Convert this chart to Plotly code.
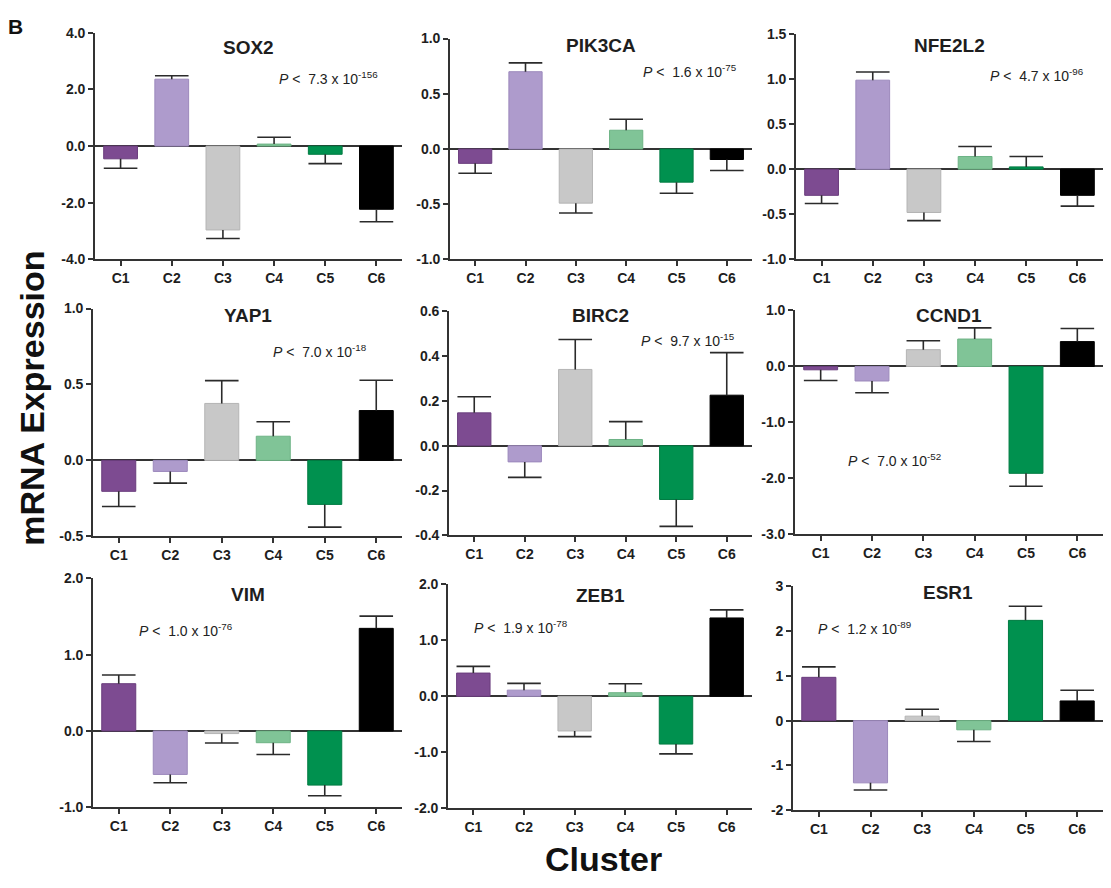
import plotly.graph_objects as go

# ---------------- data ----------------
clusters = ["C1", "C2", "C3", "C4", "C5", "C6"]
genes = ["SOX2", "PIK3CA", "NFE2L2", "YAP1", "BIRC2", "CCND1", "VIM", "ZEB1", "ESR1"]

sox2_mean = [-0.45, 2.36, -2.96, 0.07, -0.29, -2.23]
sox2_err = [0.33, 0.12, 0.30, 0.24, 0.33, 0.44]
pik3ca_mean = [-0.13, 0.70, -0.49, 0.17, -0.30, -0.095]
pik3ca_err = [0.09, 0.08, 0.09, 0.10, 0.10, 0.10]
nfe2l2_mean = [-0.29, 0.985, -0.48, 0.14, 0.025, -0.29]
nfe2l2_err = [0.09, 0.09, 0.09, 0.11, 0.115, 0.12]
yap1_mean = [-0.204, -0.073, 0.375, 0.159, -0.29, 0.328]
yap1_err = [0.10, 0.077, 0.15, 0.095, 0.15, 0.20]
birc2_mean = [0.147, -0.072, 0.341, 0.028, -0.24, 0.226]
birc2_err = [0.072, 0.069, 0.134, 0.08, 0.12, 0.19]
ccnd1_mean = [-0.06, -0.26, 0.30, 0.49, -1.91, 0.444]
ccnd1_err = [0.19, 0.21, 0.16, 0.20, 0.23, 0.235]
vim_mean = [0.62, -0.57, -0.034, -0.154, -0.71, 1.346]
vim_err = [0.115, 0.11, 0.124, 0.154, 0.14, 0.16]
zeb1_mean = [0.415, 0.11, -0.62, 0.064, -0.854, 1.40]
zeb1_err = [0.12, 0.12, 0.10, 0.16, 0.175, 0.145]
esr1_mean = [0.967, -1.39, 0.10, -0.205, 2.24, 0.44]
esr1_err = [0.234, 0.16, 0.155, 0.26, 0.315, 0.24]

means = [sox2_mean, pik3ca_mean, nfe2l2_mean, yap1_mean, birc2_mean,
         ccnd1_mean, vim_mean, zeb1_mean, esr1_mean]
errs = [sox2_err, pik3ca_err, nfe2l2_err, yap1_err, birc2_err,
        ccnd1_err, vim_err, zeb1_err, esr1_err]

y_tickvals = [
    [-4, -2, 0, 2, 4],
    [-1, -0.5, 0, 0.5, 1],
    [-1, -0.5, 0, 0.5, 1, 1.5],
    [-0.5, 0, 0.5, 1],
    [-0.4, -0.2, 0, 0.2, 0.4, 0.6],
    [-3, -2, -1, 0, 1],
    [-1, 0, 1, 2],
    [-2, -1, 0, 1, 2],
    [-2, -1, 0, 1, 2, 3],
]
y_ticktext = [
    ["-4.0", "-2.0", "0.0", "2.0", "4.0"],
    ["-1.0", "-0.5", "0.0", "0.5", "1.0"],
    ["-1.0", "-0.5", "0.0", "0.5", "1.0", "1.5"],
    ["-0.5", "0.0", "0.5", "1.0"],
    ["-0.4", "-0.2", "0.0", "0.2", "0.4", "0.6"],
    ["-3.0", "-2.0", "-1.0", "0.0", "1.0"],
    ["-1.0", "0.0", "1.0", "2.0"],
    ["-2.0", "-1.0", "0.0", "1.0", "2.0"],
    ["-2", "-1", "0", "1", "2", "3"],
]
p_mantissa = ["7.3", "1.6", "4.7", "7.0", "9.7", "7.0", "1.0", "1.9", "1.2"]
p_exponent = ["-156", "-75", "-96", "-18", "-15", "-52", "-76", "-78", "-89"]

# ---------------- style / layout ----------------
OFF = 8                      # page body margin
W, H = 1111 - 2 * OFF, 888 - 2 * OFF
bar_colors = ["#7D4B91", "#AE9BCC", "#C8C8C8", "#80C497", "#00914F", "#000000"]
edge_colors = ["#6A3D7D", "#9C89BC", "#B4B4B4", "#6DB385", "#007B42", "#000000"]
err_color = "#2b2b2b"
axis_color = "#333333"
FONT = "Liberation Sans, Arial, sans-serif"

# panel boxes in page pixels: (left, right, top, bottom)
boxes = [
    (95, 402, 25, 256), (450, 752, 31, 256), (796, 1103, 26, 256),
    (93, 402, 306, 538), (449, 752, 309, 537), (795, 1103, 308, 536),
    (93, 402, 581, 814), (448, 752, 587, 815), (793, 1103, 589, 817),
]
title_y = [40, 38, 38, 313, 313, 313, 597, 598, 595]
# p-label position: (left x px, center y px)
p_pos = [(277, 71), (641, 64), (988, 68), (271, 349), (639, 338),
         (846, 460), (137, 633), (472, 630), (816, 631)]


def px(x):
    return (x - OFF) / W


def py(y):
    return 1 - (y - OFF) / H


fig = go.Figure()
annotations = []
layout_axes = {}

for i in range(9):
    n = i + 1
    xname = "x" if n == 1 else f"x{n}"
    yname = "y" if n == 1 else f"y{n}"
    xkey = "xaxis" if n == 1 else f"xaxis{n}"
    ykey = "yaxis" if n == 1 else f"yaxis{n}"
    l, r, t, b = boxes[i]
    m = means[i]
    e = errs[i]
    xs = list(range(len(clusters)))

    fig.add_trace(go.Bar(
        x=xs, y=m, width=0.66,
        marker=dict(color=bar_colors, line=dict(color=edge_colors, width=1)),
        xaxis=xname, yaxis=yname, showlegend=False, hoverinfo="skip",
    ))

    tips = [v + (ev if v >= 0 else -ev) for v, ev in zip(m, e)]
    sx, sy = [], []
    for k in xs:
        sx += [k, k, None]
        sy += [m[k], tips[k], None]
    fig.add_trace(go.Scatter(
        x=sx, y=sy, mode="lines",
        line=dict(color=err_color, width=1.6),
        xaxis=xname, yaxis=yname, showlegend=False, hoverinfo="skip",
    ))
    fig.add_trace(go.Scatter(
        x=xs, y=tips, mode="markers",
        marker=dict(symbol="line-ew", size=24, color=err_color,
                    line=dict(color=err_color, width=1.6)),
        xaxis=xname, yaxis=yname, showlegend=False, hoverinfo="skip",
        cliponaxis=False,
    ))

    yv = y_tickvals[i]
    layout_axes[xkey] = dict(
        domain=[px(l), px(r)], anchor=yname, range=[-0.5, 5.5],
        tickvals=xs, ticktext=clusters, showgrid=False, zeroline=False,
        showline=True, linecolor=axis_color, linewidth=1.6,
        ticks="outside", ticklen=5, tickwidth=1.5, tickcolor=axis_color,
        tickfont=dict(family=FONT, size=14, color="#1e1e1e", weight="bold"),
        fixedrange=True,
    )
    layout_axes[ykey] = dict(
        domain=[py(b), py(t)], anchor=xname, range=[min(yv), max(yv)],
        tickvals=yv, ticktext=y_ticktext[i], showgrid=False,
        zeroline=True, zerolinecolor=axis_color, zerolinewidth=1.6,
        showline=True, linecolor=axis_color, linewidth=1.6,
        ticks="outside", ticklen=5, tickwidth=1.5, tickcolor=axis_color,
        tickfont=dict(family=FONT, size=14, color="#1e1e1e", weight="bold"),
        fixedrange=True,
    )

    annotations.append(dict(
        text=f"<b>{genes[i]}</b>", x=px((l + r) / 2), y=py(title_y[i]),
        xref="paper", yref="paper", showarrow=False,
        xanchor="center", yanchor="middle",
        font=dict(family=FONT, size=19, color="#1e1e1e"),
    ))
    annotations.append(dict(
        text=f"<i>P</i> <  {p_mantissa[i]} x 10<sup>{p_exponent[i]}</sup>",
        x=px(p_pos[i][0]), y=py(p_pos[i][1]),
        xref="paper", yref="paper", showarrow=False,
        xanchor="left", yanchor="middle",
        font=dict(family=FONT, size=14, color="#222222"),
    ))

annotations.append(dict(
    text="<b>B</b>", x=px(15), y=py(19), xref="paper", yref="paper",
    showarrow=False, xanchor="center", yanchor="middle",
    font=dict(family=FONT, size=21, color="#111111"),
))
annotations.append(dict(
    text="<b>mRNA Expression</b>", x=px(32), y=py(398), xref="paper",
    yref="paper", showarrow=False, textangle=-90,
    xanchor="center", yanchor="middle",
    font=dict(family=FONT, size=34, color="#111111"),
))
annotations.append(dict(
    text="<b>Cluster</b>", x=px(603), y=py(867), xref="paper", yref="paper",
    showarrow=False, xanchor="center", yanchor="middle",
    font=dict(family=FONT, size=34, color="#111111"),
))

fig.update_layout(
    width=W, height=H,
    margin=dict(l=0, r=0, t=0, b=0),
    paper_bgcolor="white", plot_bgcolor="white",
    font=dict(family=FONT, color="#222222"),
    annotations=annotations,
    showlegend=False,
    **layout_axes,
)

fig.write_html("out.html")
